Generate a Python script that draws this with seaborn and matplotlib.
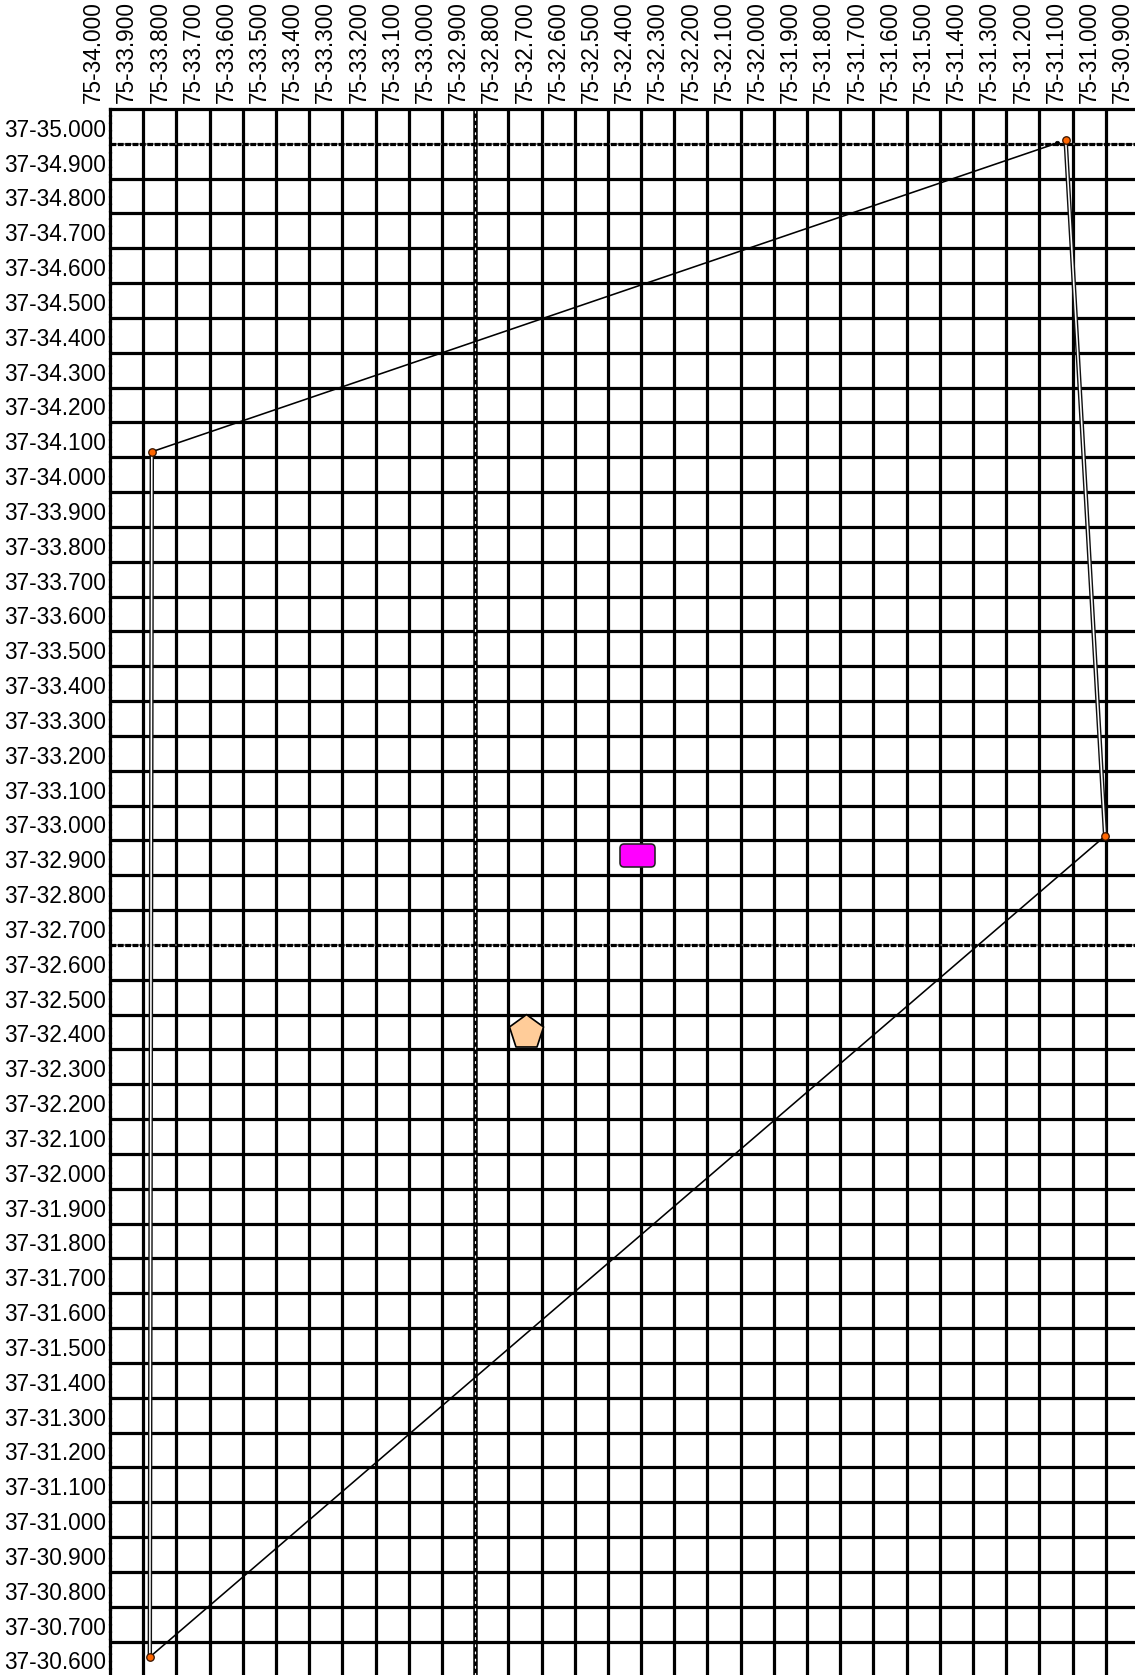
import numpy as np
import pandas as pd
import matplotlib
matplotlib.use("Agg")
import matplotlib.pyplot as plt
import matplotlib.transforms as mtransforms
from matplotlib.path import Path
from matplotlib.patches import BoxStyle
import seaborn as sns

# ---------------- data ----------------
lon_ticks = [34.0, 33.9, 33.8, 33.7, 33.6, 33.5, 33.4, 33.3, 33.2, 33.1, 33.0,
             32.9, 32.8, 32.7, 32.6, 32.5, 32.4, 32.3, 32.2, 32.1, 32.0,
             31.9, 31.8, 31.7, 31.6, 31.5, 31.4, 31.3, 31.2, 31.1, 31.0, 30.9]
lon_labels = ["75-34.000", "75-33.900", "75-33.800", "75-33.700", "75-33.600",
              "75-33.500", "75-33.400", "75-33.300", "75-33.200", "75-33.100",
              "75-33.000", "75-32.900", "75-32.800", "75-32.700", "75-32.600",
              "75-32.500", "75-32.400", "75-32.300", "75-32.200", "75-32.100",
              "75-32.000", "75-31.900", "75-31.800", "75-31.700", "75-31.600",
              "75-31.500", "75-31.400", "75-31.300", "75-31.200", "75-31.100",
              "75-31.000", "75-30.900"]
lat_ticks = [35.0, 34.9, 34.8, 34.7, 34.6, 34.5, 34.4, 34.3, 34.2, 34.1, 34.0,
             33.9, 33.8, 33.7, 33.6, 33.5, 33.4, 33.3, 33.2, 33.1, 33.0,
             32.9, 32.8, 32.7, 32.6, 32.5, 32.4, 32.3, 32.2, 32.1, 32.0,
             31.9, 31.8, 31.7, 31.6, 31.5, 31.4, 31.3, 31.2, 31.1, 31.0,
             30.9, 30.8, 30.7, 30.6]
lat_labels = ["37-35.000", "37-34.900", "37-34.800", "37-34.700", "37-34.600",
              "37-34.500", "37-34.400", "37-34.300", "37-34.200", "37-34.100",
              "37-34.000", "37-33.900", "37-33.800", "37-33.700", "37-33.600",
              "37-33.500", "37-33.400", "37-33.300", "37-33.200", "37-33.100",
              "37-33.000", "37-32.900", "37-32.800", "37-32.700", "37-32.600",
              "37-32.500", "37-32.400", "37-32.300", "37-32.200", "37-32.100",
              "37-32.000", "37-31.900", "37-31.800", "37-31.700", "37-31.600",
              "37-31.500", "37-31.400", "37-31.300", "37-31.200", "37-31.100",
              "37-31.000", "37-30.900", "37-30.800", "37-30.700", "37-30.600"]

dashed_lat = [35.0, 32.7]      # dashed horizontal reference lines
chain_lon = [32.9]             # chain-style vertical reference line

# track legs
leg_double_1_lon = [33.880, 33.874]
leg_double_1_lat = [30.656, 34.116]
leg_single_1_lon = [33.874, 31.147]
leg_single_1_lat = [34.116, 35.002]
leg_double_2_lon = [31.121, 31.002]
leg_double_2_lat = [35.011, 33.013]
leg_single_2_lon = [31.002, 33.880]
leg_single_2_lat = [33.013, 30.656]

waypoint_lon = [33.874, 31.121, 31.002, 33.880]
waypoint_lat = [34.116, 35.011, 33.013, 30.656]
blackdot_lon = [31.147]
blackdot_lat = [35.002]

rect_lon = [32.411]
rect_lat = [32.957]
penta_lon = [32.747]
penta_lat = [32.450]

# ---------------- figure ----------------
sns.set_theme(style="white")
plt.rcParams["font.family"] = ["Liberation Sans", "DejaVu Sans"]

W, H, DPI = 1135, 1675, 100
fig = plt.figure(figsize=(W / DPI, H / DPI), dpi=DPI)
fig.patch.set_facecolor("white")
ax = fig.add_axes([110 / W, 0, (W - 110) / W, (H - 109) / H])
ax.set_facecolor("white")
ax.set_xlim(34.0, 30.912)
ax.set_ylim(30.6043, 35.1)
ax.set_xticks([])
ax.set_yticks([])

px = 72.0 / DPI  # points per pixel
GRID_LW = 3.2 * px

# grid
grid_lon = [v for v in lon_ticks if v not in chain_lon and v != lon_ticks[0]]
grid_lat = [v for v in lat_ticks if v not in dashed_lat]
ax.vlines(grid_lon, 0, 1, transform=ax.get_xaxis_transform(), colors="black",
          lw=GRID_LW, zorder=1)
ax.hlines(grid_lat, 0, 1, transform=ax.get_yaxis_transform(), colors="black",
          lw=GRID_LW, zorder=1)

# dashed horizontal lines
for v in dashed_lat:
    ax.axhline(v, color="#777777", lw=1.6 * px, zorder=2)
    ax.axhline(v, color="black", lw=GRID_LW, linestyle=(0, (1.8, 0.5)), zorder=2.1)

# chain vertical line
for v in chain_lon:
    ax.axvline(v, color="black", lw=4.5 * px, zorder=2)
    ax.axvline(v, color="white", lw=1.2 * px, linestyle=(0, (1.6, 4.4)),
               dash_capstyle="round", zorder=2.1)

# spines
for s in ["right", "bottom"]:
    ax.spines[s].set_visible(False)
ax.spines["top"].set_color("black")
ax.spines["top"].set_linewidth(GRID_LW)
ax.spines["left"].set_color("black")
ax.spines["left"].set_linewidth(GRID_LW)
ax.spines["left"].set_linestyle((0, (1.8, 0.5)))

# track legs
for lons, lats in [(leg_double_1_lon, leg_double_1_lat), (leg_double_2_lon, leg_double_2_lat)]:
    df = pd.DataFrame({"lon": lons, "lat": lats})
    sns.lineplot(data=df, x="lon", y="lat", sort=False, estimator=None, ax=ax,
                 color="#111111", lw=4.4 * px, zorder=3)
    sns.lineplot(data=df, x="lon", y="lat", sort=False, estimator=None, ax=ax,
                 color="white", lw=1.6 * px, zorder=3.1)
for lons, lats in [(leg_single_1_lon, leg_single_1_lat), (leg_single_2_lon, leg_single_2_lat)]:
    df = pd.DataFrame({"lon": lons, "lat": lats})
    sns.lineplot(data=df, x="lon", y="lat", sort=False, estimator=None, ax=ax,
                 color="black", lw=1.6 * px, zorder=3.2)

# waypoints
sns.scatterplot(x=blackdot_lon, y=blackdot_lat, ax=ax, color="black", s=(4.5 * px) ** 2,
                edgecolor="black", linewidth=0.5, zorder=4)
sns.scatterplot(x=waypoint_lon, y=waypoint_lat, ax=ax, color="#ff6600", s=(7.5 * px) ** 2,
                edgecolor="#3a1500", linewidth=1.3 * px, zorder=4.1)

# rounded rectangle marker
rr = BoxStyle("Round", pad=0.0, rounding_size=0.12)(-0.5, -0.5 * 23 / 35, 1.0, 23 / 35, 1.0)
rr_marker = Path(rr.vertices, rr.codes)
sns.scatterplot(x=rect_lon, y=rect_lat, ax=ax, marker=rr_marker, s=(35 * px) ** 2,
                color="#ff00ff", edgecolor="#222222", linewidth=1.6 * px, zorder=5)

# pentagon marker
sns.scatterplot(x=penta_lon, y=penta_lat, ax=ax, marker="p", s=(35.8 * px) ** 2,
                color="#ffcc99", edgecolor="black", linewidth=1.7 * px, zorder=5)

# tick labels
xoff = mtransforms.ScaledTranslation(-10 / DPI, 6 / DPI, fig.dpi_scale_trans)
xtr = mtransforms.blended_transform_factory(ax.transData, ax.transAxes) + xoff
for v, lab in zip(lon_ticks, lon_labels):
    ax.text(v, 1.0, lab, transform=xtr, rotation=90, rotation_mode="anchor",
            ha="left", va="baseline", fontsize=16.3, color="black", clip_on=False)

yoff = mtransforms.ScaledTranslation(-4 / DPI, 7 / DPI, fig.dpi_scale_trans)
ytr = mtransforms.blended_transform_factory(ax.transAxes, ax.transData) + yoff
for v, lab in zip(lat_ticks, lat_labels):
    ax.text(0.0, v, lab, transform=ytr, ha="right", va="baseline",
            fontsize=16.3, color="black", clip_on=False)

ax.set_xlabel("")
ax.set_ylabel("")
fig.savefig("out.png", dpi=DPI, facecolor="white")
